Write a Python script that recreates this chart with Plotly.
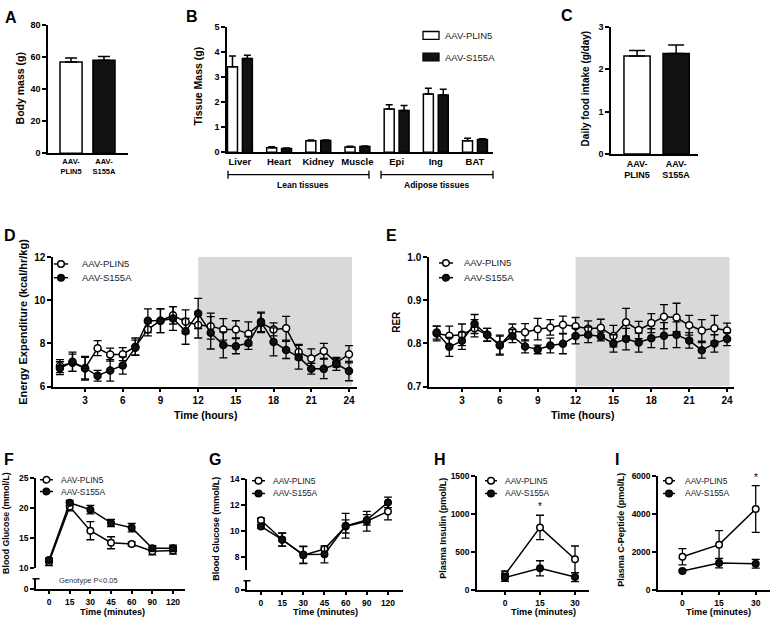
import plotly.graph_objects as go

W, H = 777, 626
FONT = "Arial, Liberation Sans, Helvetica, sans-serif"


def px(x):
    return x / W


def py(y):
    return 1 - y / H


# ---------------- data ----------------
group_ticks = ["AAV-<br>PLIN5", "AAV-<br>S155A"]
body_mass = [56.7, 57.8]
body_mass_err = [2.5, 2.4]

tissues = ["Liver", "Heart", "Kidney", "Muscle", "Epi", "Ing", "BAT"]
tissue_plin5 = [3.40, 0.18, 0.45, 0.20, 1.72, 2.32, 0.45]
tissue_plin5_err = [0.43, 0.03, 0.03, 0.03, 0.17, 0.22, 0.10]
tissue_s155a = [3.73, 0.15, 0.46, 0.22, 1.66, 2.28, 0.50]
tissue_s155a_err = [0.13, 0.02, 0.02, 0.02, 0.20, 0.22, 0.03]

food_intake = [2.31, 2.37]
food_intake_err = [0.13, 0.20]

hours = list(range(1, 25))
hour_ticks = [3, 6, 9, 12, 15, 18, 21, 24]
ee_plin5 = [6.95, 7.10, 6.85, 7.78, 7.48, 7.50, 7.85, 8.65, 9.05, 9.30, 9.00, 8.85,
            8.80, 8.65, 8.65, 8.45, 8.95, 8.65, 8.70, 7.60, 7.30, 7.65, 7.10, 7.50]
ee_plin5_err = [0.30, 0.40, 0.50, 0.35, 0.30, 0.30, 0.40, 0.30, 0.55, 0.40, 0.55, 0.60,
                0.60, 0.50, 0.40, 0.55, 0.45, 0.30, 0.55, 0.35, 0.45, 0.35, 0.20, 0.40]
ee_s155a = [6.85, 7.15, 6.85, 6.50, 6.75, 6.98, 7.80, 9.05, 9.05, 9.15, 8.56, 9.39,
            8.49, 7.93, 7.87, 8.02, 9.00, 8.07, 7.70, 7.36, 6.83, 6.82, 7.05, 6.72]
ee_s155a_err = [0.30, 0.45, 0.55, 0.25, 0.50, 0.40, 0.35, 0.55, 0.55, 0.55, 0.60, 0.70,
                0.75, 0.60, 0.35, 0.30, 0.45, 0.65, 0.40, 0.55, 0.25, 0.45, 0.30, 0.45]

rer_plin5 = [0.823, 0.818, 0.820, 0.835, 0.820, 0.795, 0.828, 0.826, 0.833, 0.837, 0.843, 0.840,
             0.834, 0.836, 0.817, 0.849, 0.831, 0.847, 0.862, 0.860, 0.842, 0.830, 0.835, 0.830]
rer_plin5_err = [0.017, 0.022, 0.025, 0.020, 0.015, 0.022, 0.017, 0.020, 0.025, 0.018, 0.020, 0.020,
                 0.018, 0.020, 0.025, 0.032, 0.020, 0.022, 0.028, 0.033, 0.023, 0.025, 0.030, 0.017]
rer_s155a = [0.825, 0.792, 0.806, 0.845, 0.820, 0.797, 0.817, 0.793, 0.786, 0.795, 0.799, 0.817,
             0.820, 0.816, 0.800, 0.810, 0.802, 0.812, 0.818, 0.820, 0.807, 0.784, 0.800, 0.810]
rer_s155a_err = [0.015, 0.022, 0.020, 0.022, 0.015, 0.022, 0.015, 0.015, 0.010, 0.017, 0.023, 0.018,
                 0.018, 0.010, 0.020, 0.025, 0.022, 0.022, 0.030, 0.030, 0.018, 0.018, 0.020, 0.015]

gtt_time = ["0", "15", "30", "45", "60", "90", "120"]
gtt_plin5 = [11.0, 20.2, 16.2, 14.2, 14.0, 12.8, 12.9]
gtt_plin5_err = [0.6, 0.7, 1.5, 1.0, 0.3, 0.6, 0.6]
gtt_s155a = [11.35, 20.85, 19.7, 17.5, 16.7, 13.3, 13.3]
gtt_s155a_err = [0.3, 0.4, 0.7, 0.6, 0.7, 0.4, 0.5]

itt_time = ["0", "15", "30", "45", "60", "90", "120"]
itt_plin5 = [10.83, 9.35, 8.15, 8.62, 10.35, 10.75, 11.50]
itt_plin5_err = [0.15, 0.50, 0.65, 0.10, 0.50, 0.75, 0.65]
itt_s155a = [10.35, 9.34, 8.20, 8.22, 10.40, 10.85, 12.19]
itt_s155a_err = [0.15, 0.50, 0.65, 0.65, 0.95, 0.40, 0.40]

ins_time = ["0", "15", "30"]
ins_plin5 = [195, 820, 400]
ins_plin5_err = [50, 160, 175]
ins_s155a = [160, 280, 165]
ins_s155a_err = [50, 100, 60]

cpep_plin5 = [1730, 2370, 4250]
cpep_plin5_err = [430, 740, 1230]
cpep_s155a = [985, 1400, 1365]
cpep_s155a_err = [60, 250, 230]

# ---------------- helpers ----------------
BLACK = "#111111"


def tfont(size):
    return dict(family=FONT, size=size, color="black", weight="bold")


def axis(**kw):
    d = dict(showline=True, linecolor="black", linewidth=1.5, ticks="outside",
             ticklen=4, tickwidth=1.5, tickcolor="black", showgrid=False,
             zeroline=False, fixedrange=True, tickfont=tfont(9))
    d.update(kw)
    return d


fig = go.Figure()
annotations = []
shapes = []


def ann(text, x, y, size, bold=True, angle=0, xanchor="center", color="black"):
    annotations.append(dict(text=text, x=px(x), y=py(y), xref="paper", yref="paper",
                            showarrow=False, textangle=angle, xanchor=xanchor,
                            yanchor="middle",
                            font=dict(family=FONT, size=size, color=color,
                                      weight="bold" if bold else "normal")))


def line_legend(x0, x1, y, filled, text, tx, size):
    shapes.append(dict(type="line", xref="paper", yref="paper", x0=px(x0), x1=px(x1),
                       y0=py(y), y1=py(y), line=dict(color="black", width=1.5)))
    cx = (x0 + x1) / 2
    r = 3.3
    shapes.append(dict(type="circle", xref="paper", yref="paper", x0=px(cx - r), x1=px(cx + r),
                       y0=py(y + r), y1=py(y - r), fillcolor=BLACK if filled else "white",
                       line=dict(color="black", width=1.5)))
    ann(text, tx, y, size, bold=False, xanchor="left", color="#222")


def bar_err(err, w=5):
    return dict(type="data", array=err, arrayminus=[0] * len(err), symmetric=False,
                color="black", thickness=1.5, width=w, visible=True)


def sym_err(err, w=4):
    return dict(type="data", array=err, color="black", thickness=1.3, width=w, visible=True)


def series(x, y, err, filled, xa, ya, size=7, w=4):
    fig.add_trace(go.Scatter(
        x=x, y=y, mode="lines+markers", xaxis=xa, yaxis=ya, showlegend=False,
        line=dict(color="black", width=1.5),
        marker=dict(symbol="circle", size=size, color=BLACK if filled else "white",
                    line=dict(color="black", width=1.5)),
        error_y=sym_err(err, w)))


# ---------------- A ----------------
fig.add_trace(go.Bar(x=[0, 1], y=body_mass, width=0.67, xaxis="x", yaxis="y",
                     marker=dict(color=["white", BLACK], line=dict(color="black", width=1.5)),
                     error_y=bar_err(body_mass_err, 6), showlegend=False))

# ---------------- B ----------------
idx = list(range(len(tissues)))
fig.add_trace(go.Bar(x=[i - 0.19 for i in idx], y=tissue_plin5, width=0.255, xaxis="x2", yaxis="y2",
                     marker=dict(color="white", line=dict(color="black", width=1.5)),
                     error_y=bar_err(tissue_plin5_err, 3.5), showlegend=False))
fig.add_trace(go.Bar(x=[i + 0.19 for i in idx], y=tissue_s155a, width=0.255, xaxis="x2", yaxis="y2",
                     marker=dict(color=BLACK, line=dict(color="black", width=1.5)),
                     error_y=bar_err(tissue_s155a_err, 3.5), showlegend=False))

# ---------------- C ----------------
fig.add_trace(go.Bar(x=[0, 1], y=food_intake, width=0.67, xaxis="x3", yaxis="y3",
                     marker=dict(color=["white", BLACK], line=dict(color="black", width=1.5)),
                     error_y=bar_err(food_intake_err, 8), showlegend=False))

# ---------------- D / E ----------------
series(hours, ee_plin5, ee_plin5_err, False, "x4", "y4")
series(hours, ee_s155a, ee_s155a_err, True, "x4", "y4")
series(hours, rer_plin5, rer_plin5_err, False, "x5", "y5")
series(hours, rer_s155a, rer_s155a_err, True, "x5", "y5")

# ---------------- F / G / H / I ----------------
gi = list(range(len(gtt_time)))
series(gi, gtt_plin5, gtt_plin5_err, False, "x6", "y6", size=6.5)
series(gi, gtt_s155a, gtt_s155a_err, True, "x6", "y6", size=6.5)
ii = list(range(len(itt_time)))
series(ii, itt_plin5, itt_plin5_err, False, "x7", "y8", size=6.5)
series(ii, itt_s155a, itt_s155a_err, True, "x7", "y8", size=6.5)
hi = list(range(len(ins_time)))
series(hi, ins_plin5, ins_plin5_err, False, "x8", "y10", size=6.5)
series(hi, ins_s155a, ins_s155a_err, True, "x8", "y10", size=6.5)
series(hi, cpep_plin5, cpep_plin5_err, False, "x9", "y11", size=6.5)
series(hi, cpep_s155a, cpep_s155a_err, True, "x9", "y11", size=6.5)

# empty traces that register the lower (broken) axis segments of F and G
for xa, ya in [("x6", "y7"), ("x7", "y9")]:
    fig.add_trace(go.Scatter(x=[], y=[], xaxis=xa, yaxis=ya, showlegend=False,
                             hoverinfo="skip", mode="markers"))

# ---------------- axes ----------------
layout_axes = dict(
    xaxis=axis(domain=[px(48), px(128)], anchor="y", range=[-0.7, 1.73], ticks="",
               tickvals=[0, 1], ticktext=group_ticks, tickfont=tfont(7.5)),
    yaxis=axis(domain=[py(150), py(19)], anchor="x", range=[0, 80],
               tickvals=[0, 20, 40, 60, 80]),
    xaxis2=axis(domain=[px(227), px(493)], anchor="y2", range=[-0.33, 6.46], ticks="",
                tickvals=idx, ticktext=tissues, tickfont=tfont(9.5)),
    yaxis2=axis(domain=[py(149), py(21)], anchor="x2", range=[0, 5],
                tickvals=[0, 1, 2, 3, 4, 5]),
    xaxis3=axis(domain=[px(611), px(698)], anchor="y3", range=[-0.667, 1.56], ticks="",
                tickvals=[0, 1], ticktext=group_ticks, tickfont=tfont(9)),
    yaxis3=axis(domain=[py(151), py(21)], anchor="x3", range=[0, 3],
                tickvals=[0, 1, 2, 3]),
    xaxis4=axis(domain=[px(53), px(357)], anchor="y4", range=[0.45, 24.64],
                tickvals=hour_ticks, tickfont=tfont(10)),
    yaxis4=axis(domain=[py(388), py(256)], anchor="x4", range=[6, 12],
                tickvals=[6, 8, 10, 12], tickfont=tfont(10)),
    xaxis5=axis(domain=[px(429), px(734)], anchor="y5", range=[0.39, 24.55],
                tickvals=hour_ticks, tickfont=tfont(10)),
    yaxis5=axis(domain=[py(388), py(256)], anchor="x5", range=[0.7, 1.0],
                tickvals=[0.7, 0.8, 0.9, 1.0], ticktext=["0.7", "0.8", "0.9", "1.0"],
                tickfont=tfont(10)),
    xaxis6=axis(domain=[px(36), px(185)], anchor="y7", range=[-0.63, 6.58],
                tickvals=gi, ticktext=gtt_time, tickfont=tfont(8.5)),
    yaxis6=axis(domain=[py(573), py(481)], anchor="x6", range=[10, 25],
                tickvals=[10, 15, 20, 25], tickfont=tfont(8.5)),
    yaxis7=axis(domain=[py(594), py(584)], anchor="x6", range=[0, 1],
                tickvals=[0], ticktext=["0"], tickfont=tfont(8.5)),
    xaxis7=axis(domain=[px(247), px(403)], anchor="y9", range=[-0.66, 6.71],
                tickvals=ii, ticktext=itt_time, tickfont=tfont(8.5)),
    yaxis8=axis(domain=[py(575), py(482)], anchor="x7", range=[7.02, 14],
                tickvals=[8, 10, 12, 14], tickfont=tfont(8.5)),
    yaxis9=axis(domain=[py(595), py(586)], anchor="x7", range=[0, 1],
                tickvals=[0], ticktext=["0"], tickfont=tfont(8.5)),
    xaxis8=axis(domain=[px(477), px(589)], anchor="y10", range=[-0.8, 2.4],
                tickvals=hi, ticktext=ins_time, tickfont=tfont(8.5)),
    yaxis10=axis(domain=[py(595), py(479)], anchor="x8", range=[0, 1500],
                 tickvals=[0, 500, 1000, 1500], ticktext=["0", "500", "1000", "1500"],
                 tickfont=tfont(8.5)),
    xaxis9=axis(domain=[px(658), px(770)], anchor="y11", range=[-0.667, 2.39],
                tickvals=hi, ticktext=ins_time, tickfont=tfont(8.5)),
    yaxis11=axis(domain=[py(595), py(479)], anchor="x9", range=[0, 6000],
                 tickvals=[0, 2000, 4000, 6000], ticktext=["0", "2000", "4000", "6000"],
                 tickfont=tfont(8.5)),
)

# dark-phase shading
GRAY = "#d9d9d9"
shapes.append(dict(type="rect", xref="x4", yref="y4", x0=12, x1=24.25, y0=6, y1=12,
                   fillcolor=GRAY, line=dict(width=0), layer="below"))
shapes.append(dict(type="rect", xref="x5", yref="y5", x0=12, x1=24.2, y0=0.7, y1=1.0,
                   fillcolor=GRAY, line=dict(width=0), layer="below"))

# broken-axis caps
for ax_x, cap_y in [(36, 584), (247, 586)]:
    shapes.append(dict(type="line", xref="paper", yref="paper", x0=px(ax_x - 3.5), x1=px(ax_x + 3.5),
                       y0=py(cap_y), y1=py(cap_y), line=dict(color="black", width=1.5)))

# brackets in B
for x0, x1 in [(228, 369), (381, 493)]:
    shapes.append(dict(type="line", xref="paper", yref="paper", x0=px(x0), x1=px(x1),
                       y0=py(172), y1=py(172), line=dict(color="black", width=1.3)))
    for xx in (x0, x1):
        shapes.append(dict(type="line", xref="paper", yref="paper", x0=px(xx), x1=px(xx),
                           y0=py(168), y1=py(176), line=dict(color="black", width=1.3)))
ann("Lean tissues", 303, 182, 8.5)
ann("Adipose tissues", 437, 182, 8.5)

# B legend (boxes)
for yc, col, txt in [(30, "white", "AAV-PLIN5"), (52, BLACK, "AAV-S155A")]:
    shapes.append(dict(type="rect", xref="paper", yref="paper", x0=px(423), x1=px(439),
                       y0=py(yc + 4), y1=py(yc - 4), fillcolor=col, line=dict(color="black", width=1.3)))
    ann(txt, 443, yc, 9.5, bold=False, xanchor="left", color="#222")

# line legends
for (x0, x1, tx, y1, y2, fs) in [(54, 68, 80, 263, 277, 9.5),
                                 (439, 453, 462, 262, 277, 9.5),
                                 (40, 53, 59, 483, 495, 8.5),
                                 (252, 265, 271, 484, 497, 8.5),
                                 (485, 497, 503, 484, 497, 8.5),
                                 (663, 675, 683, 484, 497, 8.5)]:
    line_legend(x0, x1, y1, False, "AAV-PLIN5", tx, fs)
    line_legend(x0, x1, y2, True, "AAV-S155A", tx, fs)

# panel letters
for letter, x, y in [("A", 11, 12), ("B", 192, 11), ("C", 567, 10), ("D", 10, 234),
                     ("E", 391, 234), ("F", 9, 462), ("G", 215, 462), ("H", 440, 462),
                     ("I", 617, 462)]:
    ann(letter, x, y, 16)

# axis titles
ann("Body mass (g)", 20, 84, 10.5, angle=-90)
ann("Tissue Mass (g)", 198, 82, 10.5, angle=-90)
ann("Daily food intake (g/day)", 585, 84, 10, angle=-90)
ann("Energy Expenditure (kcal/hr/kg)", 23, 322, 11, angle=-90)
ann("RER", 397, 322, 10, angle=-90)
ann("Blood Glucose (mmol/L)", 6, 527, 8.8, angle=-90)
ann("Blood Glucose (mmol/L)", 216, 533, 9, angle=-90)
ann("Plasma Insulin (pmol/L)", 443, 533, 9, angle=-90)
ann("Plasma C-Peptide (pmol/L)", 621, 534, 9, angle=-90)
ann("Time (hours)", 205, 417, 10.5)
ann("Time (hours)", 582, 417, 10.5)
for cx in (112, 325, 543, 718):
    ann("Time (minutes)", cx, 618, 9.2)
ann("Genotype P<0.05", 57, 586, 7.5, bold=False, xanchor="left", color="#333")

# significance asterisks
annotations.append(dict(text="*", x=1, y=ins_plin5[1] + ins_plin5_err[1], xref="x8", yref="y10",
                        showarrow=False, yanchor="bottom", yshift=1,
                        font=dict(family=FONT, size=10, color="black")))
annotations.append(dict(text="*", x=2, y=cpep_plin5[2] + cpep_plin5_err[2], xref="x9", yref="y11",
                        showarrow=False, yanchor="bottom", yshift=1,
                        font=dict(family=FONT, size=10, color="black")))

fig.update_layout(
    width=W, height=H, autosize=False,
    margin=dict(l=0, r=0, t=0, b=0),
    paper_bgcolor="white", plot_bgcolor="white",
    barmode="overlay", showlegend=False,
    font=dict(family=FONT, color="black"),
    annotations=annotations, shapes=shapes,
    **layout_axes,
)

fig.write_html("out.html", config={"displayModeBar": False},
               post_script="document.body.style.margin='0';document.body.style.overflow='hidden';")
